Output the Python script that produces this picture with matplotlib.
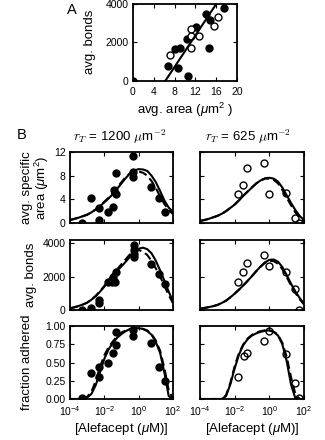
import numpy as np
import matplotlib
matplotlib.use("Agg")
from matplotlib import pyplot as plt

plt.rcParams['font.family'] = ['Liberation Sans', 'DejaVu Sans']
plt.rcParams['mathtext.fontset'] = 'custom'
plt.rcParams['mathtext.rm'] = 'Liberation Sans'
plt.rcParams['mathtext.it'] = 'Liberation Sans:italic'

# ---- panel A: avg. bonds vs avg. area ----
a_filled_x = [0.0, 6.8, 8.7, 8.1, 9.0, 10.6, 10.3, 12.1, 14.0, 14.8, 14.7, 17.5]
a_filled_y = [0, 780, 660, 1650, 1730, 260, 2170, 2790, 3480, 3170, 1730, 3810]
a_open_x = [7.2, 11.1, 11.1, 11.1, 12.7, 15.6, 16.3]
a_open_y = [1350, 2680, 2340, 1730, 2340, 2860, 3340]
fit_slope = 408.0   # bonds per um^2
fit_x0 = 6.2        # x intercept
fit_xmax = 17.0

# ---- panel B: dose response, log10 of [Alefacept] ----
logc = [-4, -3.75, -3.5, -3.25, -3, -2.75, -2.5, -2.25, -2, -1.75, -1.5, -1.25,
        -1, -0.75, -0.5, -0.25, 0, 0.25, 0.5, 0.75, 1, 1.25, 1.5, 1.75, 2]

# specific area, rT = 1200
area_1200_x = [-3.32, -2.79, -2.29, -2.29, -1.77, -1.51, -1.32, -1.32, -1.45,
               -0.31, -0.31, -0.31, 0.70, 1.20, 1.53]
area_1200_y = [0.0, 4.3, 2.5, 0.5, 1.9, 2.75, 8.5, 4.9, 5.6,
               11.3, 8.7, 7.8, 6.0, 4.2, 1.9]
area_1200_solid = [0.5, 0.7, 0.9, 1.15, 1.4, 1.8, 2.3, 2.85, 3.5, 4.15, 4.9, 5.8,
                   6.7, 7.6, 8.4, 8.9, 9.1, 9.05, 8.8, 8.0, 6.9, 5.4, 3.8, 2.6, 1.9]
area_1200_dash = [0.5, 0.7, 0.9, 1.15, 1.4, 1.8, 2.3, 2.9, 3.6, 4.3, 5.1, 6.0,
                  6.9, 7.8, 8.4, 8.7, 8.7, 8.5, 8.0, 7.1, 5.9, 4.5, 3.2, 2.2, 1.5]

# specific area, rT = 625
area_625_x = [-1.31, -0.31, -1.50, -1.79, -0.04, 0.96, 1.48, 1.73]
area_625_y = [9.3, 10.2, 6.5, 4.9, 4.9, 5.0, 0.9, 0.05]
area_625_solid = [0.35, 0.5, 0.7, 0.95, 1.2, 1.55, 2.0, 2.55, 3.1, 3.8, 4.6, 5.3,
                  6.0, 6.7, 7.2, 7.55, 7.65, 7.5, 7.0, 6.0, 4.7, 3.4, 2.2, 1.2, 0.5]
area_625_dash = [0.35, 0.5, 0.7, 0.95, 1.2, 1.55, 2.0, 2.55, 3.15, 3.85, 4.65, 5.35,
                 6.05, 6.7, 7.2, 7.5, 7.5, 7.3, 6.7, 5.6, 4.3, 3.0, 1.8, 0.9, 0.3]

# bonds, rT = 1200
bonds_1200_x = [-3.32, -2.78, -2.29, -2.29, -1.80, -1.57, -1.38, -1.51, -1.32,
                -0.27, -0.27, -0.27, -0.27, 0.70, 1.20, 1.53]
bonds_1200_y = [0, 100, 620, 450, 1680, 1680, 1680, 2010, 2300,
                3900, 3600, 3350, 3200, 2760, 2180, 1570]
bonds_1200_solid = [100, 160, 240, 330, 440, 620, 830, 1100, 1400, 1720, 2050, 2350,
                    2620, 2900, 3200, 3480, 3680, 3740, 3650, 3400, 2950, 2380, 1750, 1100, 520]
bonds_1200_dash = [100, 160, 240, 330, 440, 630, 850, 1130, 1450, 1800, 2150, 2450,
                   2750, 3050, 3350, 3550, 3600, 3500, 3300, 2950, 2500, 2000, 1450, 900, 400]

# bonds, rT = 625
bonds_625_x = [-0.31, -1.31, -1.50, -1.79, -0.04, 0.96, 1.48, 1.73]
bonds_625_y = [3320, 2840, 2280, 1680, 2650, 2300, 1290, 0]
bonds_625_solid = [80, 120, 170, 230, 300, 420, 560, 760, 980, 1220, 1480, 1750,
                   2040, 2340, 2620, 2860, 3010, 3030, 2900, 2580, 2100, 1580, 1120, 720, 380]
bonds_625_dash = [80, 120, 170, 230, 300, 420, 560, 760, 980, 1220, 1480, 1750,
                  2040, 2330, 2600, 2830, 2950, 2930, 2780, 2450, 1980, 1480, 1030, 650, 330]

# fraction adhered, rT = 1200
frac_1200_x = [-3.32, -2.79, -2.29, -2.29, -1.77, -1.51, -1.32, -1.32,
               -0.31, -0.31, 0.70, 1.20, 1.53]
frac_1200_y = [0.01, 0.35, 0.44, 0.30, 0.50, 0.63, 0.74, 0.92,
               0.95, 0.86, 0.77, 0.44, 0.25]
frac_1200_solid = [0, 0, 0, 0.005, 0.02, 0.07, 0.19, 0.37, 0.55, 0.68, 0.77, 0.84,
                   0.89, 0.93, 0.96, 0.97, 0.97, 0.96, 0.93, 0.88, 0.78, 0.63, 0.36, 0.04, 0]
frac_1200_dash = [0, 0, 0, 0.01, 0.03, 0.10, 0.25, 0.44, 0.60, 0.71, 0.79, 0.86,
                  0.91, 0.94, 0.96, 0.97, 0.97, 0.96, 0.94, 0.89, 0.80, 0.66, 0.42, 0.12, 0]

# fraction adhered, rT = 625
frac_625_x = [-0.02, -0.31, -1.31, -1.46, -1.79, 0.96, 1.48, 1.73]
frac_625_y = [0.93, 0.80, 0.63, 0.59, 0.30, 0.61, 0.22, 0.01]
frac_625_solid = [0, 0, 0, 0, 0, 0, 0.04, 0.20, 0.42, 0.61, 0.74, 0.82,
                  0.87, 0.90, 0.92, 0.935, 0.94, 0.92, 0.87, 0.75, 0.52, 0.20, 0.01, 0, 0]
frac_625_dash = [0, 0, 0, 0, 0, 0, 0.05, 0.22, 0.45, 0.63, 0.75, 0.83,
                 0.88, 0.91, 0.93, 0.94, 0.94, 0.92, 0.88, 0.77, 0.58, 0.30, 0.07, 0, 0]

W, H = 325, 440
fig = plt.figure(figsize=(W / 100, H / 100), dpi=100)

def px_axes(x0, y0, x1, y1):
    return fig.add_axes([x0 / W, 1 - y1 / H, (x1 - x0) / W, (y1 - y0) / H])

def px_text(x, y, s, **kw):
    kw.setdefault('ha', 'center')
    kw.setdefault('va', 'center')
    kw.setdefault('fontsize', 9.5)
    return fig.text(x / W, 1 - y / H, s, **kw)

def style(ax):
    for s in ax.spines.values():
        s.set_linewidth(1.3)
    ax.tick_params(direction='in', length=3, width=0.8, labelsize=7.5,
                   top=True, right=True, pad=3)
    ax.tick_params(axis='x', pad=4)
    ax.tick_params(which='minor', length=0)

lw = 1.5
ms = 5

# panel A
axA = px_axes(133, 4, 237, 81)
axA.plot(a_filled_x, a_filled_y, 'o', color='black', ms=ms)
axA.plot(a_open_x, a_open_y, 'o', mfc='white', mec='black', mew=1.0, ms=ms)
fx = np.array([fit_x0, fit_xmax])
axA.plot(fx, fit_slope * (fx - fit_x0), color='black', lw=lw)
axA.set_xlim(0, 20)
axA.set_ylim(0, 4000)
axA.set_xticks([0, 4, 8, 12, 16, 20])
axA.set_yticks([0, 2000, 4000])
style(axA)
px_text(90, 42, 'avg. bonds', rotation=90)
px_text(185, 110, r'avg. area ($\mu$m$^2$ )')
px_text(72, 10, 'A', fontsize=10.5)
px_text(22, 135, 'B', fontsize=10.5)

cols = [(70, 173), (200, 304)]
rows = [(152, 223), (240, 310), (326, 399)]
panels = [
    [(area_1200_x, area_1200_y, area_1200_solid, area_1200_dash),
     (area_625_x, area_625_y, area_625_solid, area_625_dash)],
    [(bonds_1200_x, bonds_1200_y, bonds_1200_solid, bonds_1200_dash),
     (bonds_625_x, bonds_625_y, bonds_625_solid, bonds_625_dash)],
    [(frac_1200_x, frac_1200_y, frac_1200_solid, frac_1200_dash),
     (frac_625_x, frac_625_y, frac_625_solid, frac_625_dash)],
]
ylims = [(0, 12), (0, 4200), (0, 1.0)]
yticks = [[0, 4, 8, 12], [0, 2000, 4000], [0, 0.25, 0.5, 0.75, 1.0]]
yticklabels = [['0', '4', '8', '12'], ['0', '2000', '4000'],
               ['0.00', '0.25', '0.50', '0.75', '1.00']]
ylabels = ['avg. specific\narea ($\\mu$m$^2$)', 'avg. bonds', 'fraction adhered']
ylabel_x = [36, 31, 27]
titles = ['$r_T$ = 1200 $\\mu$m$^{-2}$', '$r_T$ = 625 $\\mu$m$^{-2}$']
title_x = [120, 248]

conc = 10.0 ** np.array(logc)
for r, (y0, y1) in enumerate(rows):
    for c, (x0, x1) in enumerate(cols):
        ax = px_axes(x0, y0, x1, y1)
        px, py, solid, dash = panels[r][c]
        if c == 0:
            ax.plot(10.0 ** np.array(px), py, 'o', color='black', ms=ms)
        else:
            ax.plot(10.0 ** np.array(px), py, 'o', mfc='none', mec='black', mew=1.0, ms=ms)
        ax.plot(conc, dash, color='black', lw=lw, dashes=(4, 2))
        ax.plot(conc, solid, color='black', lw=lw)
        ax.set_xscale('log')
        ax.set_xlim(1e-4, 1e2)
        ax.set_xticks([1e-4, 1e-2, 1e0, 1e2])
        ax.set_ylim(*ylims[r])
        ax.set_yticks(yticks[r])
        style(ax)
        if c == 0:
            ax.set_yticklabels(yticklabels[r])
            px_text(ylabel_x[r], (y0 + y1) / 2, ylabels[r], rotation=90,
                    linespacing=1.0, multialignment='center')
        else:
            ax.set_yticklabels([])
        if r < 2:
            ax.set_xticklabels([])
        else:
            px_text((x0 + x1) / 2, 429, r'[Alefacept ($\mu$M)]')

for c in range(2):
    px_text(title_x[c], 137, titles[c], math_fontfamily='cm')

fig.savefig('out.png', dpi=100)
